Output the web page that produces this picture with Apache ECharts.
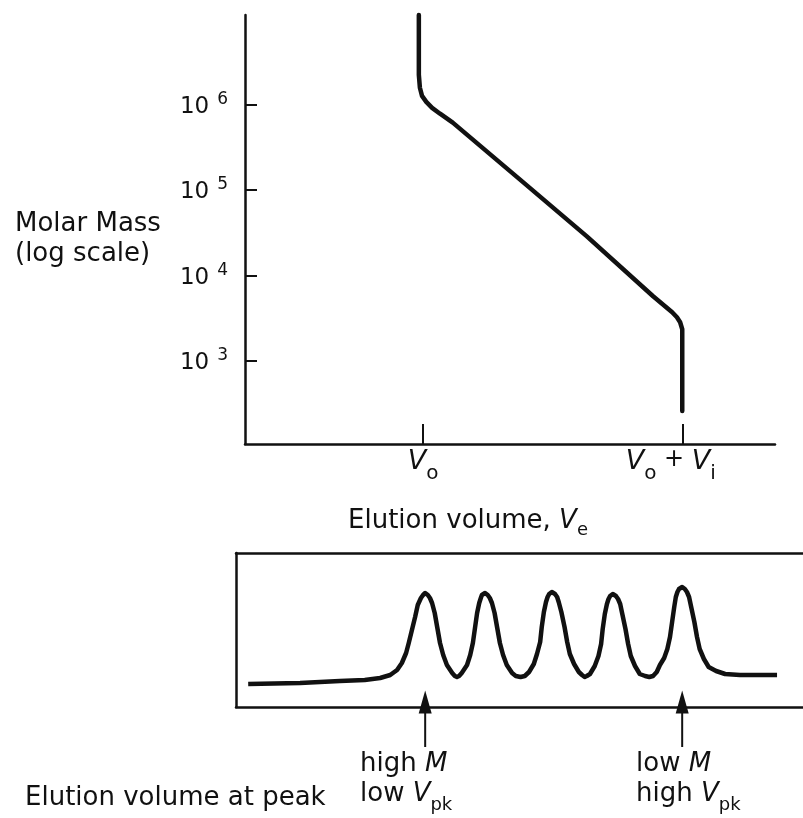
<!DOCTYPE html>
<html>
<head>
<meta charset="utf-8">
<script src="https://cdn.jsdelivr.net/npm/echarts@6/dist/echarts.min.js"></script>
<style>html,body{margin:0;padding:0;background:#fff}#c{width:803px;height:818px}</style>
</head>
<body>
<div id="c"></div>
<script>
// ---------------- data ----------------
// calibration curve: elution volume (arbitrary units) vs molar mass
const curveVolume    = [3.28, 3.28, 3.30, 3.34, 3.42, 3.53, 3.68, 3.92, 5.19, 6.45, 7.70, 8.06, 8.15, 8.21, 8.25, 8.25];
const curveMolarMass = [1.12e7, 2.24e6, 1.58e6, 1.27e6, 1.08e6, 9.2e5, 7.85e5, 6.17e5, 1.33e5, 2.88e4, 5.74e3, 3.73e3, 3.26e3, 2.85e3, 2.36e3, 261];
const massTickValues = [1e3, 1e4, 1e5, 1e6];
const volumeTickValues = [3.36, 8.26];
const volumeTickLabels = ['{v|V}{o|o}', '{v|V}{o|o}{p| + }{v|V}{oe|i}'];

// chromatogram: elution volume vs detector response (arbitrary units)
const chromVolume = [
  0.06, 1.04, 1.79, 2.26, 2.55, 2.74, 2.87, 2.96, 3.04, 3.09, 3.15, 3.21, 3.26, 3.32, 3.36, 3.40,
  3.45, 3.49, 3.53, 3.58, 3.63, 3.68, 3.74, 3.81, 3.91,
  3.96, 4.00, 4.04,
  4.09, 4.19, 4.25, 4.30, 4.34, 4.38, 4.42, 4.45, 4.47, 4.53,
  4.58, 4.62, 4.66, 4.71, 4.76, 4.81, 4.87, 4.94, 5.04,
  5.11, 5.20, 5.28,
  5.36, 5.45, 5.51, 5.57, 5.60, 5.64, 5.68, 5.71, 5.74, 5.79,
  5.85, 5.89, 5.92, 5.97, 6.03, 6.08, 6.13, 6.21, 6.30,
  6.36, 6.41, 6.45,
  6.51, 6.60, 6.67, 6.72, 6.75, 6.79, 6.83, 6.86, 6.89, 6.94,
  7.00, 7.04, 7.08, 7.12, 7.18, 7.23, 7.28, 7.36, 7.45,
  7.55, 7.63, 7.70,
  7.77, 7.83, 7.91, 7.97, 8.02, 8.06, 8.10, 8.13, 8.16, 8.19, 8.25,
  8.30, 8.34, 8.38, 8.42, 8.48, 8.53, 8.58, 8.66, 8.75, 8.89, 9.06, 9.34, 10.04];
const chromResponse = [
  23, 24, 26, 27, 29, 32, 37, 44, 54, 64, 77, 90, 102, 109, 112, 114,
  112, 109, 104, 94, 79, 64, 52, 42, 34,
  31, 30, 31,
  34, 42, 52, 64, 79, 94, 104, 109, 112, 114,
  112, 109, 104, 94, 79, 64, 52, 42, 34,
  31, 30, 31,
  35, 43, 53, 65, 80, 95, 105, 110, 113, 115,
  113, 110, 105, 95, 80, 65, 53, 43, 35,
  32, 30, 31,
  33, 41, 51, 63, 78, 93, 103, 108, 111, 113,
  111, 108, 103, 93, 78, 63, 51, 41, 33,
  31, 30, 31,
  35, 42, 49, 58, 70, 85, 100, 110, 115, 118, 120,
  118, 115, 110, 100, 85, 70, 58, 48, 40, 36, 33, 32, 32];

// arrows marking first and last peaks
const arrowVolumes = [3.40, 8.25];
const arrowTexts = ['{t|high }{i|M}\n{t|low }{i|V}{sub|pk}', '{t|low }{i|M}\n{t|high }{i|V}{sub|pk}'];
const bottomLabel = 'Elution volume at peak';

// ---------------- chart ----------------
const INK = '#111';
const FONT = 'DejaVu Sans';
const AXW = 2.5;
const chart = echarts.init(document.getElementById('c'), null, {renderer: 'canvas'});

const textRich = {
  t: {fontFamily: FONT, fontSize: 26, color: INK, lineHeight: 30, verticalAlign: 'top'},
  i: {fontFamily: FONT, fontSize: 26, fontStyle: 'italic', color: INK, lineHeight: 30, verticalAlign: 'top'},
  sub: {fontFamily: FONT, fontSize: 18, color: INK, lineHeight: 48}
};

const arrowSeries = arrowVolumes.map(x => ({
  type: 'line', xAxisIndex: 3, yAxisIndex: 2, clip: false, silent: true,
  showSymbol: true, symbol: 'none',
  lineStyle: {color: INK, width: 2}, itemStyle: {color: INK},
  data: [{value: [x, 0], symbol: 'none'}, {value: [x, 1], symbol: 'triangle', symbolSize: [13, 23]}],
  z: 5
}));

const option = {
  animation: false,
  backgroundColor: '#fff',
  textStyle: {fontFamily: FONT, color: INK},
  title: [
    {text: bottomLabel, left: 25, top: 785, padding: 0,
     textStyle: {fontFamily: FONT, fontSize: 26, fontWeight: 'normal', color: INK}},
    {text: arrowTexts[0], left: 360, top: 751, padding: 0,
     textStyle: {fontFamily: FONT, fontSize: 26, fontWeight: 'normal', color: INK, lineHeight: 30, rich: textRich}},
    {text: arrowTexts[1], left: 636, top: 751, padding: 0,
     textStyle: {fontFamily: FONT, fontSize: 26, fontWeight: 'normal', color: INK, lineHeight: 30, rich: textRich}}
  ],
  grid: [
    {left: 245, top: 15, width: 530, height: 429},
    {left: 236, top: 553, width: 567, height: 154},
    {left: 236, top: 702, width: 567, height: 45}
  ],
  xAxis: [
    {
      gridIndex: 0, type: 'value', min: 0, max: 10,
      axisLine: {onZero: false, lineStyle: {color: INK, width: AXW}},
      axisTick: {customValues: volumeTickValues, inside: true, length: 20, lineStyle: {color: INK, width: 2}},
      axisLabel: {
        customValues: volumeTickValues, margin: 4,
        formatter: function (v) {
          let k = 0, best = Infinity;
          volumeTickValues.forEach((t, i) => { if (Math.abs(t - v) < best) { best = Math.abs(t - v); k = i; } });
          return volumeTickLabels[k];
        },
        rich: {
          v: {fontFamily: FONT, fontSize: 27, fontStyle: 'italic', color: INK, lineHeight: 30, verticalAlign: 'top'},
          o: {fontFamily: FONT, fontSize: 20, color: INK, lineHeight: 52},
          oe: {fontFamily: FONT, fontSize: 20, color: INK, lineHeight: 52, padding: [0, 24, 0, 0]},
          p: {fontFamily: FONT, fontSize: 24, color: INK, lineHeight: 30, verticalAlign: 'top'}
        }
      },
      splitLine: {show: false},
      name: '{t|Elution volume, }{i|V}{sub|e}', nameLocation: 'middle', nameGap: 64,
      nameTextStyle: {
        fontFamily: FONT, fontSize: 26, color: INK, lineHeight: 30, padding: [0, 84, 0, 0],
        rich: {
          t: {fontFamily: FONT, fontSize: 26, color: INK, lineHeight: 30, verticalAlign: 'top'},
          i: {fontFamily: FONT, fontSize: 26, fontStyle: 'italic', color: INK, lineHeight: 30, verticalAlign: 'top'},
          sub: {fontFamily: FONT, fontSize: 18, color: INK, lineHeight: 44}
        }
      }
    },
    {
      gridIndex: 1, type: 'value', min: -0.17, max: 10.53, position: 'bottom',
      axisLine: {onZero: false, lineStyle: {color: INK, width: AXW}},
      axisTick: {show: false}, axisLabel: {show: false}, splitLine: {show: false}
    },
    {
      gridIndex: 1, type: 'value', min: -0.17, max: 10.53, position: 'top',
      axisLine: {onZero: false, lineStyle: {color: INK, width: AXW}},
      axisTick: {show: false}, axisLabel: {show: false}, splitLine: {show: false}
    },
    {gridIndex: 2, type: 'value', min: -0.17, max: 10.53, show: false}
  ],
  yAxis: [
    {
      gridIndex: 0, type: 'value', min: 2.03, max: 7.05,
      axisLine: {onZero: false, lineStyle: {color: INK, width: AXW}},
      axisTick: {customValues: massTickValues.map(Math.log10), inside: true, length: 12, lineStyle: {color: INK, width: 2}},
      axisLabel: {
        customValues: massTickValues.map(Math.log10), margin: 17,
        formatter: v => '{b|10}{s|' + Math.round(v) + '}',
        rich: {
          b: {fontFamily: FONT, fontSize: 23, color: INK, lineHeight: 28, padding: [4, 0, 0, 0]},
          s: {fontFamily: FONT, fontSize: 17, color: INK, lineHeight: 17, verticalAlign: 'top', padding: [0, 0, 0, 8]}
        }
      },
      splitLine: {show: false},
      name: '{g| }\n{a|Molar Mass}\n{a|(log scale)}', nameLocation: 'middle', nameRotate: 0, nameGap: 230,
      nameTextStyle: {
        fontFamily: FONT, fontSize: 26, color: INK, lineHeight: 30, align: 'left', verticalAlign: 'middle',
        rich: {
          g: {fontFamily: FONT, fontSize: 10, lineHeight: 20},
          a: {fontFamily: FONT, fontSize: 26, color: INK, lineHeight: 30}
        }
      }
    },
    {
      gridIndex: 1, type: 'value', min: 0, max: 154,
      axisLine: {onZero: false, lineStyle: {color: INK, width: AXW}},
      axisTick: {show: false}, axisLabel: {show: false}, splitLine: {show: false}
    },
    {gridIndex: 2, type: 'value', min: 0, max: 1, show: false}
  ],
  series: [
    {
      type: 'line', xAxisIndex: 0, yAxisIndex: 0, symbol: 'none', clip: false,
      lineStyle: {color: INK, width: 4.5, join: 'round', cap: 'round'},
      data: curveVolume.map((x, i) => [x, Math.log10(curveMolarMass[i])])
    },
    {
      type: 'line', xAxisIndex: 1, yAxisIndex: 1, symbol: 'none', smooth: false,
      lineStyle: {color: INK, width: 4.5, join: 'round', cap: 'butt'},
      data: chromVolume.map((x, i) => [x, chromResponse[i]])
    }
  ].concat(arrowSeries)
};
chart.setOption(option);
</script>
</body>
</html>
